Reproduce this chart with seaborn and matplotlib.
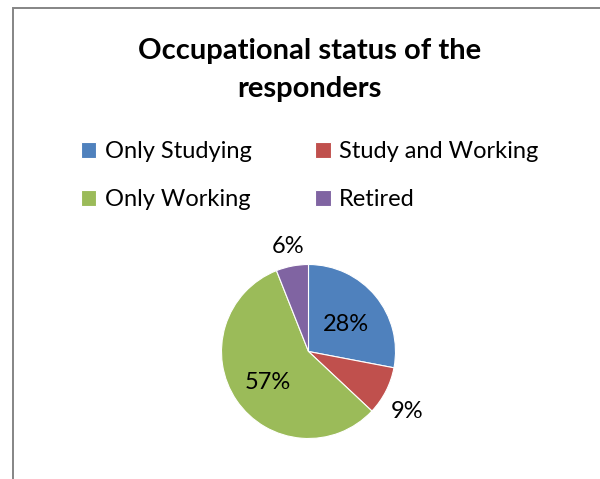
import matplotlib

matplotlib.use("Agg")
import matplotlib.pyplot as plt
import numpy as np
import seaborn as sns
from matplotlib.patches import Rectangle

# Chart data
categories = ["Only Studying", "Study and Working", "Only Working", "Retired"]
shares = [28, 9, 57, 6]
pct_labels = ["28%", "9%", "57%", "6%"]
title = "Occupational status of the\nresponders"

# Excel 2007 style palette
colors = sns.color_palette(["#4F81BD", "#C0504D", "#9BBB59", "#8064A2"])

# Label placement per wedge: radius (fraction of pie radius), angle shift (deg)
label_radius = [0.53, 1.33, 0.58, 1.23]
label_shift = [-4.5, -4.5, 3.0, 0.0]

W, H = 600, 479


def main() -> None:
    """Draw the pie chart"""
    sns.set_theme(style="white")
    plt.rcParams["font.family"] = ["Lato", "DejaVu Sans"]

    fig = plt.figure(figsize=(W / 100, H / 100), dpi=100)

    # Outer chart frame (only top and left edges visible)
    fig.patches.append(
        Rectangle(
            (13 / W, -0.1), 1.2, (H - 8) / H + 0.1,
            transform=fig.transFigure, fill=False,
            edgecolor="#858585", linewidth=1.4,
        )
    )

    # Pie axes: radius 1 in data -> 87 px
    cx, cy, r_px, lim = 308.5, H - 351.5, 87.0, 1.4
    side = 2 * lim * r_px
    ax = fig.add_axes([(cx - side / 2) / W, (cy - side / 2) / H, side / W, side / H])
    wedges, _ = ax.pie(
        shares,
        colors=colors,
        startangle=90,
        counterclock=False,
        radius=1.0,
        wedgeprops={"edgecolor": "white", "linewidth": 0.8},
    )
    ax.set_xlim(-lim, lim)
    ax.set_ylim(-lim, lim)
    ax.set_aspect("equal")
    ax.axis("off")

    # Percentage labels
    for wedge, text, rad, shift in zip(wedges, pct_labels, label_radius, label_shift):
        mid = np.deg2rad((wedge.theta1 + wedge.theta2) / 2 + shift)
        ax.text(rad * np.cos(mid), rad * np.sin(mid), text,
                ha="center", va="center", fontsize=17, color="black")

    # Title
    fig.text(309.5 / W, 1 - 38 / H, title, ha="center", va="top",
             fontsize=21, fontweight="bold", linespacing=1.55, color="black")

    # Legend, filled row by row as in the reference
    order = [0, 2, 1, 3]
    fig.legend(
        [wedges[i] for i in order], [categories[i] for i in order],
        loc="upper left", bbox_to_anchor=(81 / W, 1 - 141 / H),
        ncol=2, frameon=False, fontsize=17, labelcolor="black",
        handlelength=0.65, handleheight=0.65, handletextpad=0.35,
        columnspacing=2.7, labelspacing=1.15, borderaxespad=0, borderpad=0,
    )

    fig.savefig("out.png", dpi=100)


if __name__ == "__main__":
    main()
